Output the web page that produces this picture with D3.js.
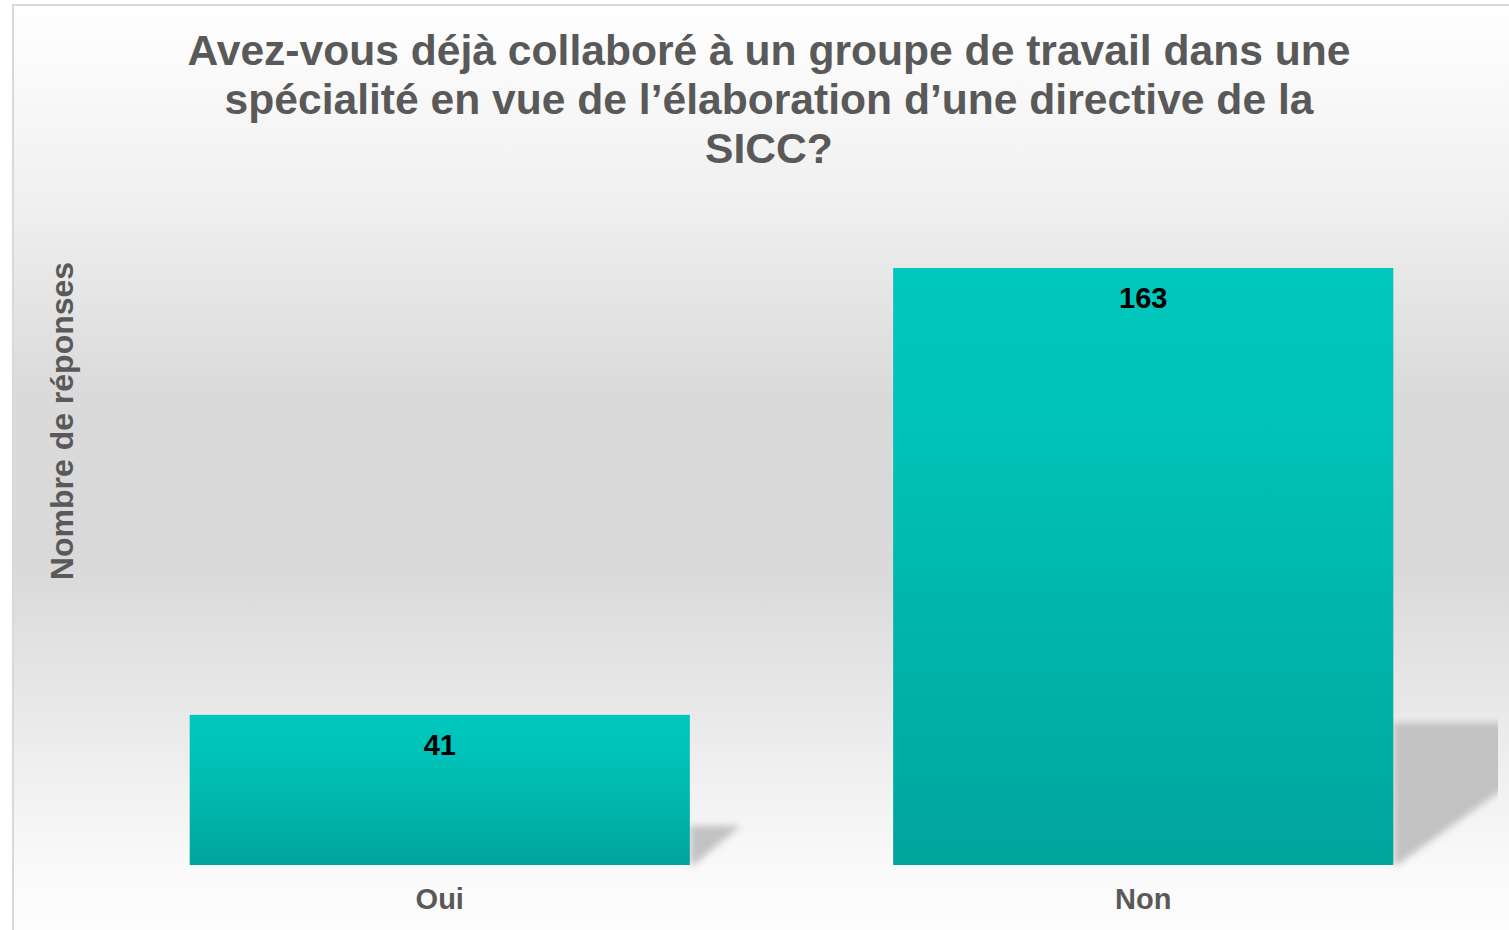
<!DOCTYPE html>
<html>
<head>
<meta charset="utf-8">
<script src="https://cdn.jsdelivr.net/npm/d3@7"></script>
<style>
  html, body { margin: 0; padding: 0; background: #ffffff; overflow: hidden; }
  svg { display: block; }
</style>
</head>
<body>
<svg id="chart" width="1509" height="930"></svg>
<script>
const categories = ["Oui", "Non"];
const values = [41, 163];
const titleLines = [
  "Avez-vous déjà collaboré à un groupe de travail dans une",
  "spécialité en vue de l’élaboration d’une directive de la",
  "SICC?"
];
const yAxisTitle = "Nombre de réponses";

const W = 1509, H = 930;
const svg = d3.select("#chart");
const defs = svg.append("defs");

// background gradient
const bg = defs.append("linearGradient").attr("id", "bgGrad")
  .attr("gradientUnits", "userSpaceOnUse")
  .attr("x1", 0).attr("y1", 5).attr("x2", 0).attr("y2", 935);
[[0, "#ffffff"], [0.2, "#f1f1f1"], [0.42, "#dadada"], [0.6, "#d9d9d9"], [0.82, "#efefef"], [0.93, "#fafafa"], [1, "#fdfdfd"]]
  .forEach(([o, c]) => bg.append("stop").attr("offset", o).attr("stop-color", c));

// bar gradient
const bar = defs.append("linearGradient").attr("id", "barGrad")
  .attr("x1", 0).attr("y1", 0).attr("x2", 0).attr("y2", 1);
[[0, "#00c7bd"], [0.25, "#00c3b9"], [1, "#00a59c"]]
  .forEach(([o, c]) => bar.append("stop").attr("offset", o).attr("stop-color", c));

defs.append("filter").attr("id", "blur").attr("x", "-20%").attr("y", "-20%")
  .attr("width", "140%").attr("height", "140%")
  .append("feGaussianBlur").attr("stdDeviation", 3.5);

defs.append("clipPath").attr("id", "plotClip")
  .append("rect").attr("x", 13).attr("y", 5).attr("width", 1485).attr("height", 925);

svg.append("rect").attr("x", 13).attr("y", 5).attr("width", W + 10).attr("height", H + 10)
  .attr("fill", "url(#bgGrad)").attr("stroke", "#d9d9d9").attr("stroke-width", 2);

// scales
const x = d3.scaleBand().domain(categories).range([49, 1534]).paddingInner(0.289).paddingOuter(0.2);
const baseY = 865, topY = 268;
const y = d3.scaleLinear().domain([0, d3.max(values)]).range([baseY, topY]);

const data = categories.map((c, i) => ({ cat: c, val: values[i] }));

// shadows
const shadowG = svg.append("g").attr("clip-path", "url(#plotClip)");
shadowG.selectAll("path.shadow").data(data).enter().append("path")
  .attr("class", "shadow")
  .attr("d", d => {
    const x1 = x(d.cat) + x.bandwidth();
    const h = y(0) - y(d.val);
    const a = h * 0.23 + 5, b = h * 0.34;
    return `M${x1},${y(0)} L${x1},${y(0) - a} L${x1 + b},${y(0) - a} L${x1 + 4},${y(0)} Z`;
  })
  .attr("fill", "#c0c0c0")
  .attr("opacity", 0.95)
  .attr("filter", "url(#blur)");

// bars
svg.selectAll("rect.bar").data(data).enter().append("rect")
  .attr("class", "bar")
  .attr("x", d => x(d.cat))
  .attr("y", d => y(d.val))
  .attr("width", x.bandwidth())
  .attr("height", d => y(0) - y(d.val))
  .attr("fill", "url(#barGrad)");

// value labels
svg.selectAll("text.val").data(data).enter().append("text")
  .attr("class", "val")
  .attr("x", d => x(d.cat) + x.bandwidth() / 2)
  .attr("y", d => y(d.val) + 40)
  .attr("text-anchor", "middle")
  .attr("font-family", "'Liberation Sans', Arial, sans-serif")
  .attr("font-weight", "bold")
  .attr("font-size", 29)
  .attr("fill", "#000000")
  .text(d => d.val);

// x axis labels
const xAxis = d3.axisBottom(x).tickSize(0).tickPadding(0);
const gx = svg.append("g").attr("transform", `translate(0,${baseY})`).call(xAxis);
gx.select(".domain").remove();
gx.selectAll("text")
  .attr("dy", 0).attr("y", 44)
  .attr("font-family", "'Liberation Sans', Arial, sans-serif")
  .attr("font-weight", "bold")
  .attr("font-size", 29)
  .attr("fill", "#595959");

// title
const title = svg.append("text")
  .attr("text-anchor", "middle")
  .attr("font-family", "'Liberation Sans', Arial, sans-serif")
  .attr("font-weight", "bold")
  .attr("font-size", 42.6)
  .attr("fill", "#595959");
titleLines.forEach((t, i) => {
  title.append("tspan").attr("x", 769).attr("y", 65 + i * 49).text(t);
});

// y axis title
svg.append("text")
  .attr("transform", `translate(73,421) rotate(-90)`)
  .attr("text-anchor", "middle")
  .attr("font-family", "'Liberation Sans', Arial, sans-serif")
  .attr("font-weight", "bold")
  .attr("font-size", 32)
  .attr("fill", "#595959")
  .text(yAxisTitle);
</script>
</body>
</html>
